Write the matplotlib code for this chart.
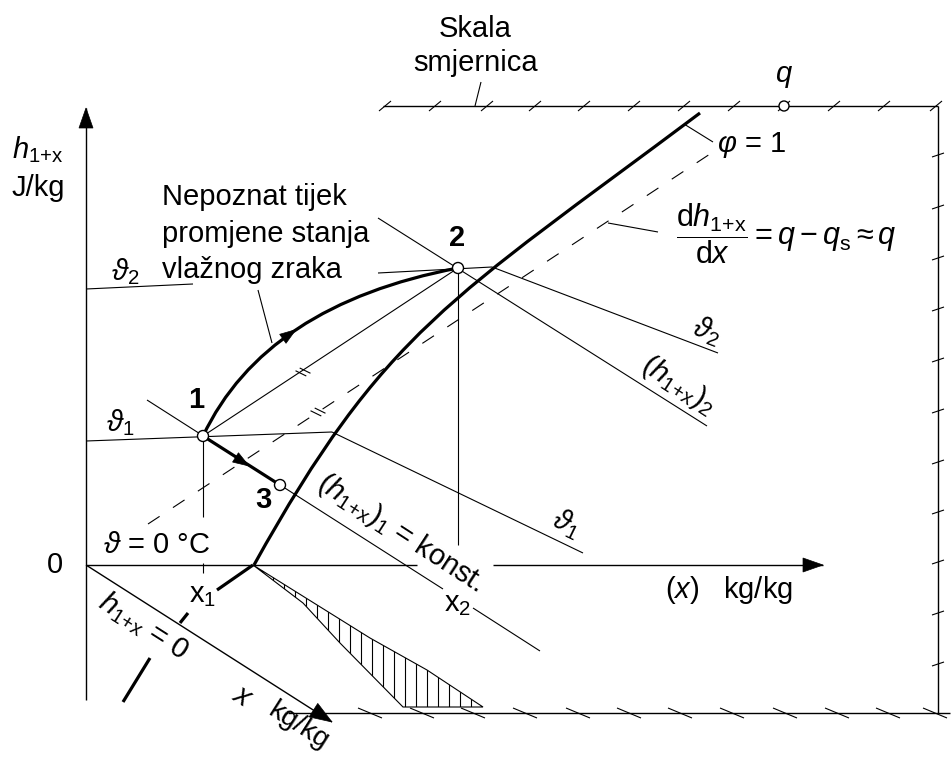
import numpy as np
import matplotlib
matplotlib.use("Agg")
import matplotlib.pyplot as plt
from matplotlib.patches import Polygon, Circle, PathPatch
from matplotlib.path import Path

# ---------------- data (diagram geometry, pixel-like units, y downward) ----------------
origin = (86, 565)
y_axis = [(86, 700), (86, 108)]
x_axis_a = [(86, 565), (417, 565)]
x_axis_b = [(493, 565), (823, 565)]
x_slant_axis = [(86, 565), (332, 722)]

frame_top = [(383, 106), (938, 106)]
frame_right = [(938, 106), (938, 713)]
frame_bottom = [(288, 713), (950, 713)]
top_ticks_x = [385, 435, 487, 535, 584, 634, 684, 734, 784, 834, 884, 936]
right_ticks_y = [155, 207, 258, 309, 360, 411, 462, 512, 562, 613, 664]
bottom_ticks_x = [370, 422, 473, 525, 578, 629, 680, 732, 785, 837, 888, 935]

p1 = (203, 436)
p2 = (458, 268)
p3 = (280, 485)
q_point = (784, 106)

# saturation line phi = 1 (cubic Bezier control points)
saturation_ctrl_x = [254, 384, 450, 700]
saturation_ctrl_y = [565, 331, 300, 113]
fog_pieces = [[(253, 565), (217, 590)], [(180, 623), (188, 613)], [(123, 702), (150, 658)]]

hatch_x = [253, 303, 340, 403, 483, 427, 370]
hatch_y = [565, 603, 643, 707, 707, 670, 638]

process_ctrl = [p1, (265, 305), p2]          # unknown path 1 -> 2 (Bezier)
dashed_dir = [(148, 524), (710, 154)]        # dh/dx = q direction
h1_line = [[(147, 400), (443, 589)], [(473, 608), (540, 651)]]
h2_line = [(378, 218), (707, 426)]
t2_iso = [[(86, 289), (193, 284)], [(378, 273), (492, 267)], [(492, 267), (718, 353)]]
t1_iso = [[(86, 441), (332, 432)], [(332, 432), (583, 553)]]
x1_vert = [[(203, 436), (203, 517)], [(203, 563), (203, 573)]]
x2_vert = [(458, 268), (458, 545)]

leaders = [[(481, 82), (475, 106)], [(684, 124), (713, 142)],
           [(608, 223), (658, 232)], [(258, 290), (272, 343)]]

# ---------------- style ----------------
plt.rcParams['font.family'] = ['Liberation Sans', 'DejaVu Sans']
plt.rcParams['mathtext.fontset'] = 'custom'
plt.rcParams['mathtext.rm'] = 'Liberation Sans'
plt.rcParams['mathtext.it'] = 'Liberation Sans:italic'
plt.rcParams['mathtext.bf'] = 'Liberation Sans:bold'
plt.rcParams['mathtext.sf'] = 'Liberation Sans'
plt.rcParams['lines.scale_dashes'] = False

FS = 21
THIN = 0.8
MED = 1.0
THICK = 2.3

fig = plt.figure(figsize=(9.51, 7.60), dpi=100)
ax = fig.add_axes([0, 0, 1, 1])
ax.set_xlim(0, 951)
ax.set_ylim(760, 0)
ax.axis('off')


def seg(pts, lw=THIN, **kw):
    xs = [p[0] for p in pts]
    ys = [p[1] for p in pts]
    ax.plot(xs, ys, color='k', lw=lw, solid_capstyle='butt', **kw)


def arrowhead(tip, direction, length=20, half=7):
    d = np.array(direction, float)
    d /= np.hypot(*d)
    n = np.array([-d[1], d[0]])
    t = np.array(tip, float)
    b = t - d * length
    poly = Polygon([t, b + n * half, b - n * half], closed=True, fc='k', ec='k', lw=0.5, zorder=5)
    ax.add_patch(poly)


def equal_marks(center, direction, length=12, sep=5):
    d = np.array(direction, float)
    d /= np.hypot(*d)
    n = np.array([-d[1], d[0]])
    s = (n * 0.85 + d * 0.5)
    s /= np.hypot(*s)
    c = np.array(center, float)
    for k in (-0.5, 0.5):
        m = c + d * sep * k
        seg([m - s * length / 2, m + s * length / 2], lw=THIN)


def circ(pt, r=5.5):
    ax.add_patch(Circle(pt, r, fc='white', ec='k', lw=1.0, zorder=6))


# axes
seg(y_axis, lw=MED)
arrowhead(y_axis[1], (0, -1), 20, 7)
seg(x_axis_a, lw=MED)
seg(x_axis_b, lw=MED)
arrowhead(x_axis_b[1], (1, 0), 20, 7)
seg(x_slant_axis, lw=MED)
arrowhead(x_slant_axis[1], (x_slant_axis[1][0] - origin[0], x_slant_axis[1][1] - origin[1]), 22, 8)

# frame (scale of directions)
seg(frame_top, lw=MED)
seg(frame_right, lw=MED)
seg(frame_bottom, lw=MED)
for tx in top_ticks_x:
    seg([(tx - 6, 111), (tx + 6, 101)], lw=THIN)
for ty in right_ticks_y:
    seg([(932, ty + 2), (944, ty - 2)], lw=THIN)
for bx in bottom_ticks_x:
    seg([(bx - 12, 708), (bx + 12, 718)], lw=THIN)

# saturation line
sat_path = Path(list(zip(saturation_ctrl_x, saturation_ctrl_y)),
                [Path.MOVETO, Path.CURVE4, Path.CURVE4, Path.CURVE4])
ax.add_patch(PathPatch(sat_path, fc='none', ec='k', lw=THICK, zorder=4))
for piece in fog_pieces:
    seg(piece, lw=THICK)

# hatched fog region
hpoly = Polygon(list(zip(hatch_x, hatch_y)), closed=True, fill=False, ec='k', lw=THIN)
ax.add_patch(hpoly)
hx = np.arange(262, 484, 11)
lc = ax.vlines(hx, 560, 707, colors='k', lw=THIN)
lc.set_clip_path(hpoly)

# isotherms, enthalpy lines, verticals
for s_ in t2_iso:
    seg(s_)
for s_ in t1_iso:
    seg(s_)
for s_ in h1_line:
    seg(s_)
seg(h2_line)
for s_ in x1_vert:
    seg(s_)
seg(x2_vert)
seg([p1, p2])
ax.plot([dashed_dir[0][0], dashed_dir[1][0]], [dashed_dir[0][1], dashed_dir[1][1]],
        color='k', lw=THIN, ls=(0, (10, 11.5)))
for ld in leaders:
    seg(ld)

# equal (parallel) marks
equal_marks((303, 372), (p2[0] - p1[0], p2[1] - p1[1]))
equal_marks((318, 412), (dashed_dir[1][0] - dashed_dir[0][0], dashed_dir[1][1] - dashed_dir[0][1]))

# process 1 -> 2 (unknown) as quadratic Bezier
path = Path(process_ctrl, [Path.MOVETO, Path.CURVE3, Path.CURVE3])
ax.add_patch(PathPatch(path, fc='none', ec='k', lw=THICK, zorder=4))
P0, C, P2 = [np.array(p, float) for p in process_ctrl]
t = 0.47
pt = (1 - t) ** 2 * P0 + 2 * (1 - t) * t * C + t ** 2 * P2
dv = 2 * (1 - t) * (C - P0) + 2 * t * (P2 - C)
arrowhead(pt + dv / np.hypot(*dv) * 7, dv, 16, 5.5)

# process 1 -> 3
seg([p1, p3], lw=THICK)
arrowhead((249, 466), (p3[0] - p1[0], p3[1] - p1[1]), 16, 5.5)

circ(p1)
circ(p2)
circ(p3)
circ(q_point, 5)

# ---------------- texts ----------------
T = dict(color='k', fontsize=FS)
SUB = r'\mathrm{1{+}x}'
ax.text(475, 29, 'Skala', ha='center', va='center', **T)
ax.text(476, 63, 'smjernica', ha='center', va='center', **T)
ax.text(784, 76, r'$q$', ha='center', va='center', **T)
ax.text(717, 145, r'$\varphi$ = 1', ha='left', va='center', **T)
ax.text(676, 234, r'$\dfrac{\mathrm{d}h_{' + SUB + r'}}{\mathrm{d}x} = q - q_{\mathrm{s}} \approx q$',
        ha='left', va='center', color='k', fontsize=22)
ax.text(12, 150, r'$h_{' + SUB + r'}$', ha='left', va='center', **T)
ax.text(12, 188, 'J/kg', ha='left', va='center', **T)
ax.text(162, 205, 'Nepoznat tijek', ha='left', va='baseline', **T)
ax.text(162, 242, 'promjene stanja', ha='left', va='baseline', **T)
ax.text(162, 278, 'vlažnog zraka', ha='left', va='baseline', **T)
ax.text(457, 238, '2', ha='center', va='center', fontweight='bold', **T)
ax.text(196, 400, '1', ha='center', va='center', fontweight='bold', **T)
ax.text(263, 500, '3', ha='center', va='center', fontweight='bold', **T)
ax.text(125, 272, r'$\vartheta_2$', ha='center', va='center', **T)
ax.text(120, 423, r'$\vartheta_1$', ha='center', va='center', **T)
ax.text(157, 545, r'$\vartheta$ = 0 °C', ha='center', va='center', **T)
ax.text(55, 565, '0', ha='center', va='center', **T)
ax.text(203, 595, r'x$_1$', ha='center', va='center', **T)
ax.text(458, 604, r'x$_2$', ha='center', va='center', **T)
ax.text(729, 590, r'($x$)   kg/kg', ha='center', va='center', **T)
ax.text(144, 626, r'$h_{' + SUB + r'}$ = $0$', ha='center', va='center', rotation=-32.5,
        rotation_mode='anchor', **T)
ax.text(242, 697, r'$x$', ha='center', va='center', rotation=-32.5, rotation_mode='anchor', **T)
ax.text(298, 726, 'kg/kg', ha='center', va='center', rotation=-32.5, rotation_mode='anchor',
        color='k', fontsize=20)
ax.text(400, 533, r'$(h_{' + SUB + r'})_1$ = konst.', ha='center', va='center', rotation=-33,
        rotation_mode='anchor', **T)
ax.text(678, 385, r'$(h_{' + SUB + r'})_2$', ha='center', va='center', rotation=-33,
        rotation_mode='anchor', **T)
ax.text(707, 331, r'$\vartheta_2$', ha='center', va='center', rotation=-21, rotation_mode='anchor', **T)
ax.text(566, 523, r'$\vartheta_1$', ha='center', va='center', rotation=-26, rotation_mode='anchor', **T)

fig.savefig('out.png', dpi=100, facecolor='white')
